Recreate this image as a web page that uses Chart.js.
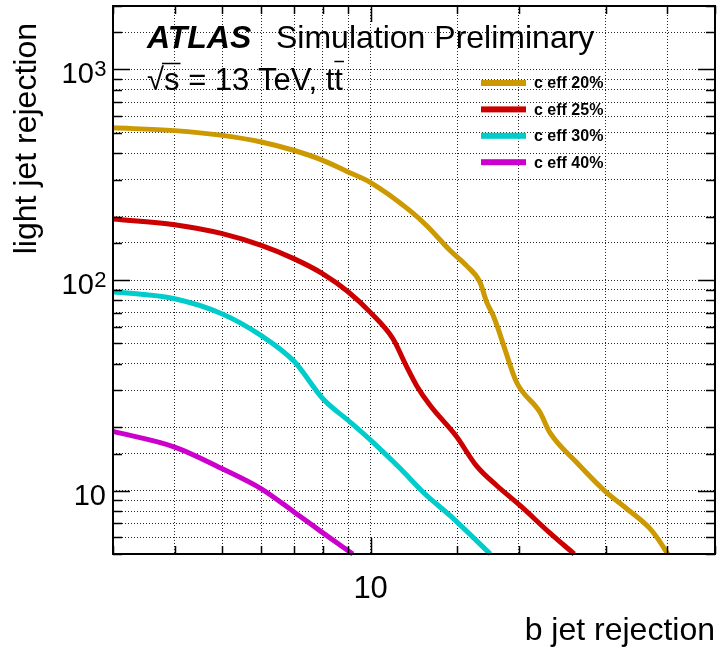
<!DOCTYPE html>
<html>
<head>
<meta charset="utf-8">
<title>light jet rejection vs b jet rejection</title>
<script src="https://cdn.jsdelivr.net/npm/chart.js@4.4.1/dist/chart.umd.min.js"></script>
<style>
  html, body { margin: 0; padding: 0; background: #fff; }
  #plot { display: block; }
</style>
</head>
<body>
<canvas id="plot" width="720" height="652"></canvas>
<script>
// values (b jet rejection -> light jet rejection)
var effLabels = ['c eff 20%', 'c eff 25%', 'c eff 30%', 'c eff 40%'];
var effColors = ['#cc9900', '#cc0000', '#00cccc', '#cc00cc'];

var bRej20 = [3, 4, 5, 6, 7, 8, 9, 10, 12, 13, 14.5, 15.65, 16.66, 17.2, 17.73, 18.15, 18.72, 19.78, 22.05, 23.1, 26.2, 30.1, 33.1, 36.9, 38.3, 40.1];
var lRej20 = [528, 512, 486, 452, 412, 370, 326, 290, 214, 181, 138, 117, 98, 78.5, 67.8, 58.6, 47.1, 32.7, 23.6, 18.9, 13.6, 9.8, 8.2, 6.6, 5.9, 5.0];

var bRej25 = [3, 4, 5, 6, 7, 8, 9, 10, 11.1, 11.8, 12.4, 13.2, 14.9, 16.4, 18.0, 20.1, 23.1, 25.9];
var lRej25 = [195, 183, 166, 146, 126, 107, 88, 70, 52.6, 39.3, 31.5, 25.4, 18.2, 13.1, 10.6, 8.5, 6.3, 5.0];

var bRej30 = [3, 4, 5, 6, 7, 8, 9.1, 10.1, 11.5, 12.8, 14.5, 17.5];
var lRej30 = [88, 81.5, 69, 54.4, 41, 27.3, 21.1, 17, 12.7, 9.8, 7.6, 5.0];

var bRej40 = [3, 4, 5, 6, 7, 8, 9.2];
var lRej40 = [19.1, 16.1, 12.7, 10.2, 7.9, 6.3, 5.0];

var xTickText = { 10: '10' };
// y labels are 10^n, drawn with a real superscript
var yTickExp = { 10: '', 100: '2', 1000: '3' };

var FONT = '"Liberation Sans", Arial, Helvetica, sans-serif';

function points(xs, ys) {
  return xs.map(function(x, i) { return { x: x, y: ys[i] }; });
}

var series = [[bRej20, lRej20], [bRej25, lRej25], [bRej30, lRej30], [bRej40, lRej40]];

var datasets = series.map(function(s, i) {
  return {
    label: effLabels[i],
    data: points(s[0], s[1]),
    borderColor: effColors[i],
    backgroundColor: effColors[i],
    borderWidth: 5,
    pointRadius: 0,
    fill: false,
    cubicInterpolationMode: 'monotone',
    clip: 2
  };
});

function isDecade(v) {
  var l = Math.log10(v);
  return Math.abs(l - Math.round(l)) < 1e-6;
}

// ROOT-style frame, inner tick marks, labels and legend
var atlasDecor = {
  id: 'atlasDecor',
  afterDatasetsDraw: function(chart) {
    var ctx = chart.ctx;
    var a = chart.chartArea;
    var xs = chart.scales.x;
    var ys = chart.scales.y;

    ctx.save();
    ctx.strokeStyle = '#000';
    ctx.lineWidth = 1.5;

    xs.ticks.forEach(function(t) {
      var px = Math.round(xs.getPixelForValue(t.value)) + 0.5;
      var len = isDecade(t.value) ? 16 : 8;
      ctx.beginPath();
      ctx.moveTo(px, a.bottom); ctx.lineTo(px, a.bottom - len);
      ctx.moveTo(px, a.top); ctx.lineTo(px, a.top + len);
      ctx.stroke();
    });
    ys.ticks.forEach(function(t) {
      var py = Math.round(ys.getPixelForValue(t.value)) + 0.5;
      var len = isDecade(t.value) ? 17 : 9;
      ctx.beginPath();
      ctx.moveTo(a.left, py); ctx.lineTo(a.left + len, py);
      ctx.moveTo(a.right, py); ctx.lineTo(a.right - len, py);
      ctx.stroke();
    });

    ctx.lineWidth = 2;
    ctx.strokeRect(a.left, a.top, a.right - a.left, a.bottom - a.top);

    // y tick labels: "10" with superscript exponent, right-aligned
    ctx.fillStyle = '#000';
    ctx.textBaseline = 'alphabetic';
    ctx.textAlign = 'left';
    Object.keys(yTickExp).forEach(function(k) {
      var py = ys.getPixelForValue(+k);
      var exp = yTickExp[k];
      ctx.font = '22px ' + FONT;
      var wExp = exp ? ctx.measureText(exp).width : 0;
      ctx.font = '29px ' + FONT;
      var wBase = ctx.measureText('10').width;
      var x0 = a.left - 7 - wExp - wBase;
      ctx.fillText('10', x0, py + 14);
      if (exp) {
        ctx.font = '22px ' + FONT;
        ctx.fillText(exp, x0 + wBase + 0.5, py + 6.5);
      }
    });

    // axis titles
    ctx.font = '32px ' + FONT;
    ctx.textAlign = 'right';
    ctx.fillText('b jet rejection', a.right, 640);

    ctx.save();
    ctx.translate(36, a.top + 17);
    ctx.rotate(-Math.PI / 2);
    ctx.textAlign = 'right';
    ctx.fillText('light jet rejection', 0, 0);
    ctx.restore();

    // ATLAS label
    ctx.textAlign = 'left';
    ctx.font = 'italic bold 32px ' + FONT;
    ctx.fillText('ATLAS', 147, 48);
    ctx.font = '32px ' + FONT;
    ctx.fillText('Simulation Preliminary', 276, 48);

    ctx.font = '31px ' + FONT;
    ctx.fillText('\u221As = 13 TeV, tt', 147, 90);
    var wRoot = ctx.measureText('\u221A').width;
    var wS = ctx.measureText('s').width;
    var wAll = ctx.measureText('\u221As = 13 TeV, tt').width;
    var wT = ctx.measureText('t').width;
    ctx.lineWidth = 1.5;
    ctx.beginPath();
    ctx.moveTo(147 + wRoot - 2, 63.5); ctx.lineTo(147 + wRoot + wS + 1, 63.5);
    ctx.moveTo(147 + wAll - wT, 61.5); ctx.lineTo(147 + wAll + 1, 61.5);
    ctx.stroke();

    // legend
    ctx.font = 'bold 16px ' + FONT;
    ctx.textBaseline = 'middle';
    chart.data.datasets.forEach(function(ds, i) {
      var cy = 83 + i * 26.4;
      ctx.fillStyle = ds.borderColor;
      ctx.fillRect(481, cy - 3, 45, 6);
      ctx.fillStyle = '#000';
      ctx.fillText(ds.label, 534, cy + 1);
    });
    ctx.restore();
  }
};

var gridOpts = {
  color: 'rgba(0,0,0,0.85)',
  lineWidth: 1,
  drawTicks: false,
  borderDash: [1, 2]
};

var chart = new Chart(document.getElementById('plot'), {
  type: 'line',
  data: { datasets: datasets },
  options: {
    responsive: false,
    animation: false,
    devicePixelRatio: 1,
    layout: { padding: { top: 6, right: 5, left: 0, bottom: 0 } },
    plugins: {
      legend: { display: false },
      tooltip: { enabled: false }
    },
    scales: {
      x: {
        type: 'logarithmic',
        position: 'bottom',
        min: 3,
        max: 50,
        grid: gridOpts,
        border: { display: false, dash: [1, 2] },
        ticks: {
          autoSkip: false,
          maxRotation: 0,
          padding: 17,
          color: '#000',
          font: { family: FONT, size: 31 },
          callback: function(v) { return xTickText[Math.round(v)] || ''; }
        },
        afterFit: function(s) {
          s.height = 98;
          s.paddingLeft = 0; s.paddingRight = 0;
        }
      },
      y: {
        type: 'logarithmic',
        position: 'left',
        min: 5,
        max: 2000,
        grid: gridOpts,
        border: { display: false, dash: [1, 2] },
        ticks: {
          display: false,
          autoSkip: false
        },
        afterFit: function(s) {
          s.width = 113;
          s.paddingTop = 0; s.paddingBottom = 0;
        }
      }
    }
  },
  plugins: [atlasDecor]
});
</script>
</body>
</html>
